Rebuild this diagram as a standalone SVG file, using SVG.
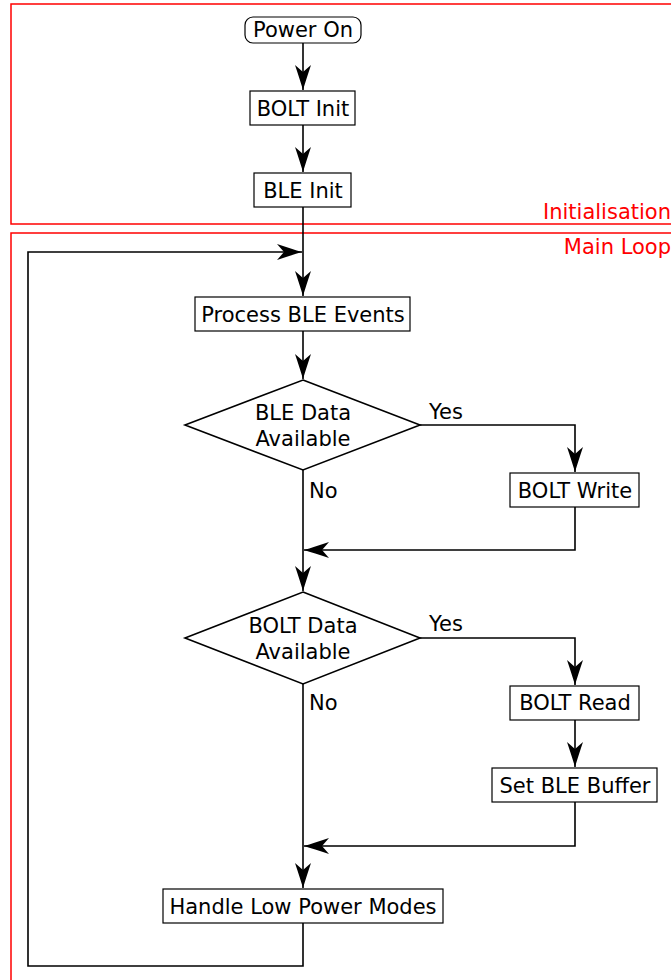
<svg xmlns="http://www.w3.org/2000/svg" width="671" height="980" viewBox="0 0 671 980">
<defs>
<style>
text{font-family:"DejaVu Sans","Noto Sans",sans-serif;font-size:21px;fill:#000}
.c{text-anchor:middle}
.frame{fill:none;stroke:#ff0000;stroke-width:1.5}
.flab{fill:#ff0000;text-anchor:end}
.box{fill:#fff;stroke:#000;stroke-width:1.2}
.dia{fill:#fff;stroke:#000;stroke-width:1.6}
.edge{fill:none;stroke:#000;stroke-width:1.6}
</style>
<marker id="ah" markerUnits="userSpaceOnUse" markerWidth="30" markerHeight="20" viewBox="-28 -10 29 20" refX="0" refY="0" orient="auto">
<path d="M0,0 Q-10,-3 -25,-8 L-18,0 L-25,8 Q-10,3 0,0 Z" fill="#000"/>
</marker>
</defs>
<rect width="671" height="980" fill="#fff"/>
<g id="frame-init">
<rect class="frame" x="11" y="4" width="680" height="220"/>
<text class="flab" x="671" y="219">Initialisation</text>
</g>
<g id="frame-main">
<rect class="frame" x="11" y="233" width="680" height="760"/>
<text class="flab" x="671" y="254">Main Loop</text>
</g>
<g id="connectors">
<path class="edge" d="M303,43 V90" marker-end="url(#ah)"/>
<path class="edge" d="M303,125 V172" marker-end="url(#ah)"/>
<path class="edge" d="M303,207 V296" marker-end="url(#ah)"/>
<path class="edge" d="M303,331 V379" marker-end="url(#ah)"/>
<path class="edge" d="M420,425 H575 V472" marker-end="url(#ah)"/>
<path class="edge" d="M575,507 V550 H304" marker-end="url(#ah)"/>
<path class="edge" d="M303,470 V591" marker-end="url(#ah)"/>
<path class="edge" d="M420,638 H575 V685" marker-end="url(#ah)"/>
<path class="edge" d="M575,720 V767" marker-end="url(#ah)"/>
<path class="edge" d="M575,802 V846 H304" marker-end="url(#ah)"/>
<path class="edge" d="M303,684 V888" marker-end="url(#ah)"/>
<path class="edge" d="M303,923 V966 H28 V252 H302" marker-end="url(#ah)"/>
<text x="429" y="419">Yes</text>
<text x="309" y="498">No</text>
<text x="429" y="631">Yes</text>
<text x="309" y="710">No</text>
</g>
<g id="power-on">
<rect class="box" x="245" y="17" width="116" height="26" rx="8"/>
<text class="c" x="303" y="37">Power On</text>
</g>
<g id="bolt-init">
<rect class="box" x="250" y="91" width="105" height="34"/>
<text class="c" x="303" y="116">BOLT Init</text>
</g>
<g id="ble-init">
<rect class="box" x="254" y="173" width="97" height="34"/>
<text class="c" x="303" y="198">BLE Init</text>
</g>
<g id="process-ble">
<rect class="box" x="195" y="297" width="215" height="34"/>
<text class="c" x="303" y="322">Process BLE Events</text>
</g>
<g id="ble-data">
<polygon class="dia" points="303,380 420,425 303,470 185,425"/>
<text class="c" x="303" y="420">BLE Data</text>
<text class="c" x="303" y="446">Available</text>
</g>
<g id="bolt-write">
<rect class="box" x="510" y="473" width="129" height="34"/>
<text class="c" x="575" y="498">BOLT Write</text>
</g>
<g id="bolt-data">
<polygon class="dia" points="303,592 420,638 303,684 185,638"/>
<text class="c" x="303" y="633">BOLT Data</text>
<text class="c" x="303" y="659">Available</text>
</g>
<g id="bolt-read">
<rect class="box" x="510" y="686" width="129" height="34"/>
<text class="c" x="575" y="710">BOLT Read</text>
</g>
<g id="set-ble-buffer">
<rect class="box" x="492" y="768" width="165" height="34"/>
<text class="c" x="575" y="793">Set BLE Buffer</text>
</g>
<g id="low-power">
<rect class="box" x="163" y="889" width="280" height="34"/>
<text class="c" x="303" y="914">Handle Low Power Modes</text>
</g>
</svg>
